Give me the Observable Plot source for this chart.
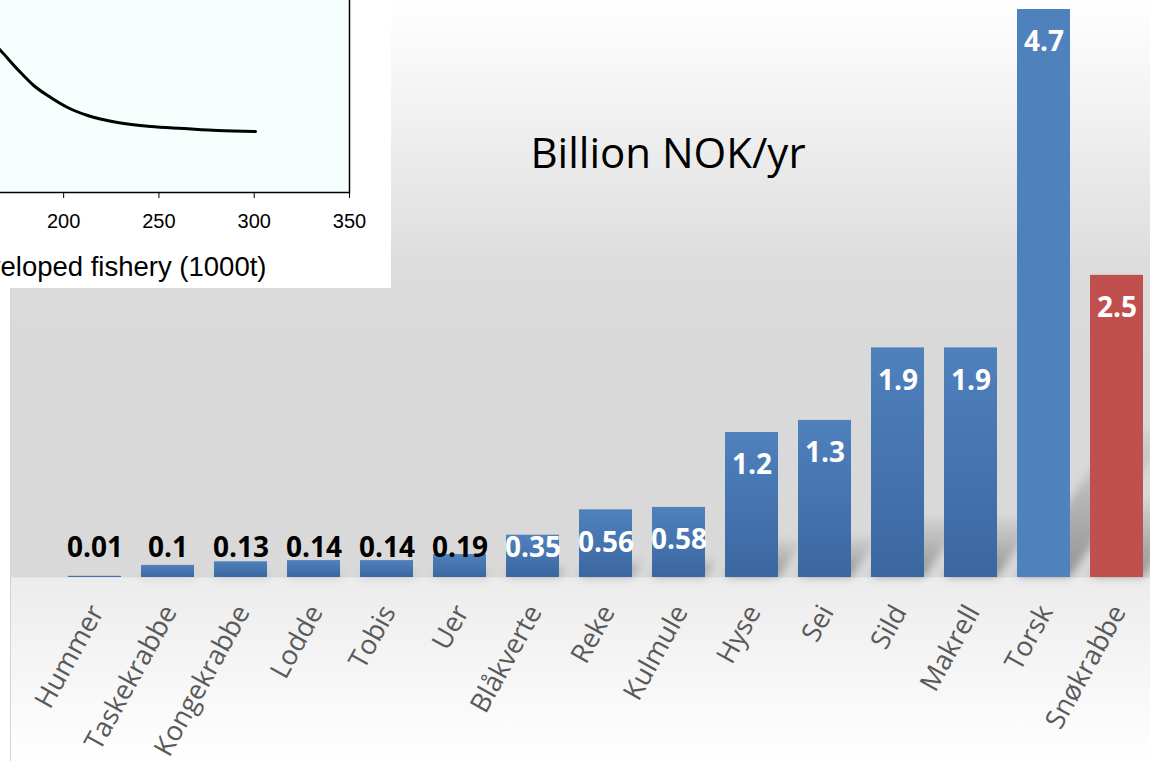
<!DOCTYPE html>
<html>
<head>
<meta charset="utf-8">
<script src="https://cdn.jsdelivr.net/npm/d3@7"></script>
<script src="https://cdn.jsdelivr.net/npm/@observablehq/plot@0.6"></script>
<style>
html, body { margin: 0; padding: 0; width: 1150px; height: 761px; overflow: hidden; background: #ffffff; }
#panel { position: absolute; left: 10px; top: 0; width: 1140px; height: 761px; border-left: 1px solid #d4d4d4;
  background: linear-gradient(to bottom, #ffffff 0px, #f3f3f3 100px, #dcdcdc 270px, #d9d9d9 360px, #d9d9d9 577px, #ececec 578px, #ffffff 761px); }
#main { position: absolute; left: 0; top: 0; }
#title { position: absolute; left: 418px; width: 500px; top: 125px; text-align: center;
  font-family: "Open Sans", sans-serif; font-size: 42px; line-height: 54px; color: #000; }
#inset { position: absolute; left: 0; top: 0; width: 391px; height: 288px; background: #ffffff; overflow: hidden; }
#insetPlot { position: absolute; left: -378px; top: -60px; }
</style>
</head>
<body>
<div id="panel"></div>
<div id="main"></div>
<div id="title">Billion NOK/yr</div>
<div id="inset"><div id="insetPlot"></div></div>
<script>
// ---- main chart data ----
const categories = ["Hummer", "Taskekrabbe", "Kongekrabbe", "Lodde", "Tobis", "Uer", "Blåkverte", "Reke", "Kulmule", "Hyse", "Sei", "Sild", "Makrell", "Torsk", "Snøkrabbe"];
const values = [0.01, 0.1, 0.13, 0.14, 0.14, 0.19, 0.35, 0.56, 0.58, 1.2, 1.3, 1.9, 1.9, 4.7, 2.5];

// ---- inset chart data (partially visible) ----
const insetX = [160, 166.9, 177.4, 184.3, 193.2, 202.1, 212.6, 228.3, 245.6, 263.0, 280.8, 300.7];
const insetY = [156, 142, 120, 107, 95, 85, 77, 70, 66, 64, 62, 61];
const insetTicks = [200, 250, 300, 350];
const insetLabel = "Catch in the developed fishery (1000t)";

const data = categories.map((c, i) => ({cat: c, value: values[i]}));
const flatBars = new Set(["Torsk"]);
const redBar = "Snøkrabbe";
const barFill = d => d.cat === redBar ? "#c0504d" : flatBars.has(d.cat) ? "#4f81bd" : "url(#barGrad)";
const font = "'Open Sans', sans-serif";

const chart = Plot.plot({
  width: 1150, height: 761,
  marginTop: 9, marginBottom: 184, marginLeft: 58, marginRight: -3,
  style: {background: "transparent", overflow: "visible"},
  x: {domain: categories, paddingInner: 0.27, paddingOuter: 0.135},
  y: {domain: [0, 4.7], axis: null},
  color: {type: "identity"},
  marks: [
    Plot.barY(data, {x: "cat", y: "value", fill: barFill}),
    Plot.text(data, {
      x: "cat", y: d => Math.max(d.value, 0.513), dy: 33,
      text: d => String(d.value),
      fill: d => d.value >= 0.3 ? "#ffffff" : "#000000",
      fontSize: 28, fontWeight: "bold", fontFamily: font
    }),
    Plot.axisX({tickSize: 0, tickRotate: -61, tickPadding: 30, dx: 2, fontSize: 27,
      color: "#595959", fontFamily: font, label: null})
  ]
});

// gradient + shadow defs
const NS = "http://www.w3.org/2000/svg";
const defs = document.createElementNS(NS, "defs");
defs.innerHTML = `
  <linearGradient id="barGrad" x1="0" y1="0" x2="0" y2="1">
    <stop offset="0" stop-color="#4f81bd"/><stop offset="1" stop-color="#3b67a0"/>
  </linearGradient>
  <linearGradient id="shadowGrad" x1="0" y1="1" x2="0" y2="0">
    <stop offset="0" stop-color="#000" stop-opacity="0.32"/><stop offset="1" stop-color="#000" stop-opacity="0.03"/>
  </linearGradient>
  <filter id="blur" x="-50%" y="-50%" width="200%" height="200%"><feGaussianBlur stdDeviation="4"/></filter>`;
chart.insertBefore(defs, chart.firstChild);

// perspective shadows using the chart's own scales
const xs = chart.scale("x"), ys = chart.scale("y");
const bw = xs.bandwidth;
const base = ys.apply(0);
const sg = document.createElementNS(NS, "g");
sg.setAttribute("filter", "url(#blur)");
data.forEach(d => {
  const x0 = xs.apply(d.cat), x1 = x0 + bw;
  const h = base - ys.apply(d.value);
  const len = h * 0.26;
  const off = len / 1.45;
  const p = document.createElementNS(NS, "polygon");
  p.setAttribute("points", `${x0},${base} ${x1},${base} ${x1 + off},${base - len} ${x0 + off},${base - len}`);
  p.setAttribute("fill", "url(#shadowGrad)");
  sg.appendChild(p);
});
defs.after(sg);

document.getElementById("main").appendChild(chart);

// ---- inset ----
const insetData = insetX.map((x, i) => ({x, y: insetY[i]}));
const inset = Plot.plot({
  width: 747, height: 360,
  marginLeft: 60, marginRight: 20, marginTop: 10, marginBottom: 108,
  style: {background: "transparent", overflow: "visible"},
  x: {domain: [0, 350]},
  y: {domain: [0, 242], axis: null},
  marks: [
    Plot.frame({fill: "#f6fefe", stroke: "#000000", strokeWidth: 1.5}),
    Plot.line(insetData, {x: "x", y: "y", stroke: "#000000", strokeWidth: 3, curve: "monotone-x"}),
    Plot.axisX({ticks: insetTicks, tickSize: 6, tickPadding: 15, fontSize: 20,
      fontFamily: "'Liberation Sans', Arial, sans-serif", color: "#000000", label: null}),
    Plot.text([insetLabel], {frameAnchor: "bottom-right", textAnchor: "end", dx: -83, dy: 83,
      fontSize: 27.5, fontFamily: "'Liberation Sans', Arial, sans-serif", fill: "#000000"})
  ]
});
document.getElementById("insetPlot").appendChild(inset);
</script>
</body>
</html>
